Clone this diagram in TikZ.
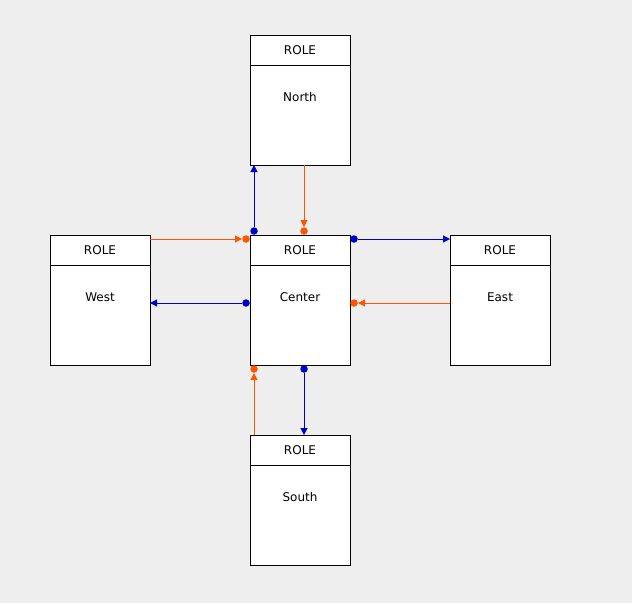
\documentclass[tikz,border=0pt]{standalone}
\usepackage{fontspec}
\setmainfont{DejaVu Sans}
\usetikzlibrary{arrows.meta}
\definecolor{bg}{HTML}{EEEEEE}
\definecolor{ora}{HTML}{FF5500}
\definecolor{blu}{HTML}{0000CC}
\begin{document}
\begin{tikzpicture}[x=1pt,y=-1pt,
  box/.style={draw=black, fill=white, line width=1pt, minimum width=100pt, minimum height=130pt, inner sep=0pt, outer sep=0pt, anchor=north west},
  lbl/.style={font=\fontsize{12}{14}\selectfont, inner sep=0pt},
  conn/.style={line width=1pt, -{Triangle[length=7pt,width=7pt]}},
  dotst/.style={circle, inner sep=0pt, minimum size=7.5pt}]
\fill[bg] (0,0) rectangle (632,603);
\useasboundingbox (0,0) rectangle (632,603);
\foreach \n/\x/\y/\t in {N/250/35/North, W/50/235/West, C/250/235/Center, E/450/235/East, S/250/435/South} {
  \node[box] (\n) at (\x,\y) {};
  \draw[line width=1pt] (\x,\y+30) -- (\x+100,\y+30);
  \node[lbl] (\n r) at (\x+50,\y+15) {ROLE};
  \node[lbl] (\n t) at (\x+50,\y+62) {\t};
}
\node[dotst, fill=blu] (d1) at (254,231) {};
\node[dotst, fill=ora] (d2) at (304,231) {};
\node[dotst, fill=ora] (d3) at (246,239) {};
\node[dotst, fill=blu] (d4) at (354,239) {};
\node[dotst, fill=blu] (d5) at (246,303) {};
\node[dotst, fill=ora] (d6) at (354,303) {};
\node[dotst, fill=ora] (d7) at (254,369) {};
\node[dotst, fill=blu] (d8) at (304,369) {};
\draw[conn, blu] (d1) -- (d1 |- N.south);
\draw[conn, ora] (N.south -| d2) -- (d2);
\draw[conn, ora] (W.east |- d3) -- (d3);
\draw[conn, blu] (d4) -- (E.west |- d4);
\draw[conn, blu] (d5) -- (W.east |- d5);
\draw[conn, ora] (E.west |- d6) -- (d6);
\draw[conn, ora] (S.north -| d7) -- (d7);
\draw[conn, blu] (d8) -- (S.north -| d8);
\end{tikzpicture}
\end{document}
